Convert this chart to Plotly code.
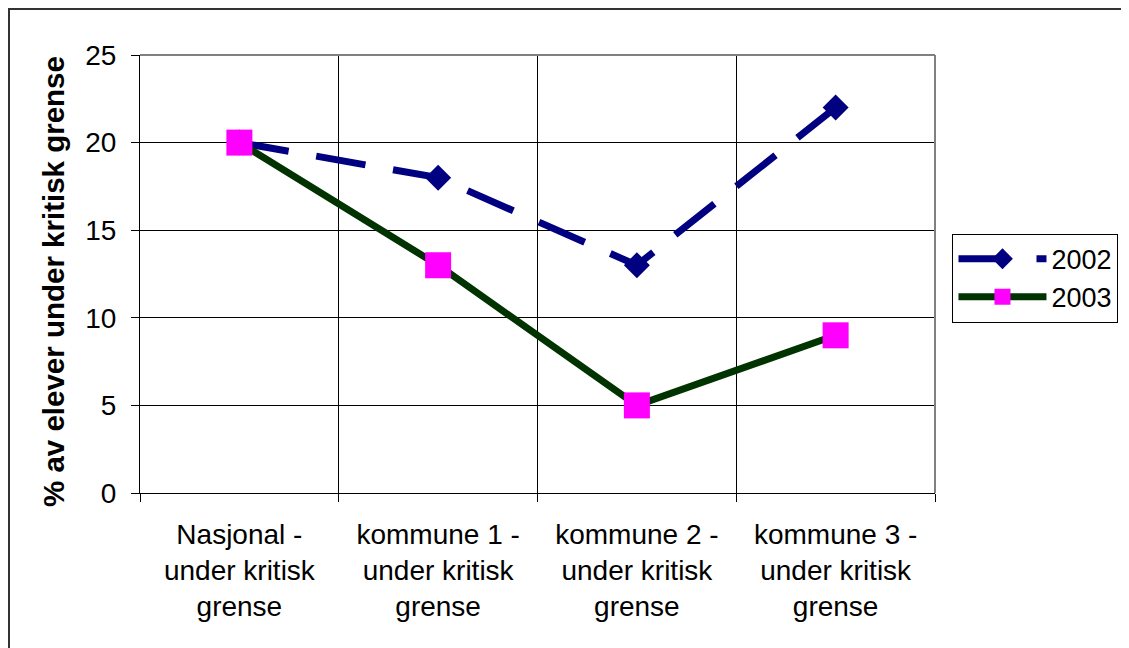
import plotly.graph_objects as go

categories = ["Nasjonal -<br>under kritisk<br>grense",
              "kommune 1 -<br>under kritisk<br>grense",
              "kommune 2 -<br>under kritisk<br>grense",
              "kommune 3 -<br>under kritisk<br>grense"]
values_2002 = [20, 18, 13, 22]
values_2003 = [20, 13, 5, 9]
y_title = "% av elever under kritisk grense"

FONT = "Liberation Sans, Arial, sans-serif"

fig = go.Figure()
fig.add_trace(go.Scatter(
    x=categories, y=values_2002, name="2002", mode="lines+markers",
    line=dict(color="#000080", width=7, dash="50px,28px"),
    marker=dict(symbol="diamond", size=20, color="#000080"),
))
fig.add_trace(go.Scatter(
    x=categories, y=values_2003, name="2003", mode="lines+markers",
    line=dict(color="#003300", width=7),
    marker=dict(symbol="square", size=26, color="#FF00FF"),
))

# figure sits at page offset (8, 8); plot area at page x 140..935, y 55..493
fig.update_layout(
    width=1121, height=640,
    margin=dict(l=132, r=194, t=47, b=155, autoexpand=False),
    paper_bgcolor="white", plot_bgcolor="white",
    font=dict(family=FONT, size=28, color="black"),
    showlegend=True,
    legend=dict(x=1.022, y=0.592, xanchor="left", yanchor="top",
                bordercolor="black", borderwidth=1, bgcolor="white",
                font=dict(size=27), tracegroupgap=0, itemwidth=88),
    xaxis=dict(type="category", tickson="boundaries", showgrid=True,
               gridcolor="black", gridwidth=1, ticks="outside", ticklen=8,
               tickcolor="black", showline=True, linecolor="black",
               linewidth=1, mirror=False, range=[-0.5, 3.5],
               tickfont=dict(size=28), ticklabelstandoff=16),
    yaxis=dict(range=[0, 25], dtick=5, showgrid=True, gridcolor="black",
               gridwidth=1, ticks="outside", ticklen=8, tickcolor="black",
               showline=True, linecolor="black", linewidth=1,
               zeroline=False, tickfont=dict(size=28), ticklabelstandoff=9),
    annotations=[dict(text="<b>" + y_title + "</b>", textangle=-90,
                      xref="paper", yref="paper",
                      x=(53 - 140) / 795, y=(493 - 282) / 438,
                      showarrow=False, font=dict(size=29.5),
                      xanchor="center", yanchor="middle")],
    shapes=[
        dict(type="line", xref="paper", yref="paper", x0=0, x1=1, y0=1, y1=1,
             line=dict(color="#808080", width=2)),
        dict(type="line", xref="paper", yref="paper", x0=1, x1=1, y0=0, y1=1,
             line=dict(color="#808080", width=2)),
        # outer chart frame along the figure's top and left edges
        dict(type="line", xref="paper", yref="paper",
             x0=-132 / 795, x1=2, y0=(485 - 1) / 438, y1=(485 - 1) / 438,
             line=dict(color="#333333", width=2)),
        dict(type="line", xref="paper", yref="paper",
             x0=(-132 + 1) / 795, x1=(-132 + 1) / 795, y0=-1, y1=(485 - 1) / 438,
             line=dict(color="#333333", width=2)),
    ],
)

fig.write_html("out.html")
